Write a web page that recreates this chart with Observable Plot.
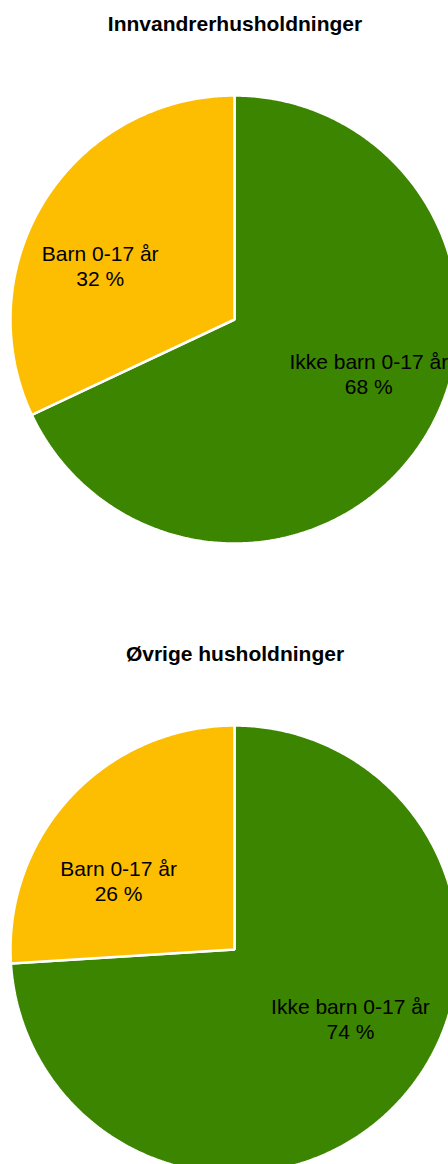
<!DOCTYPE html>
<html><head><meta charset="utf-8">
<script src="https://cdn.jsdelivr.net/npm/d3@7"></script>
<script src="https://cdn.jsdelivr.net/npm/@observablehq/plot@0.6"></script>
<style>
body{margin:0;background:#fff;font-family:"Liberation Sans",Arial,sans-serif;width:448px;overflow:hidden}
.block{height:630px;overflow:visible}
.title{font-weight:bold;font-size:21px;line-height:24px;padding-top:12px;text-align:center;width:470px;color:#000}
svg{overflow:visible;display:block}
</style></head>
<body><div id="root"></div>
<script>
const categories = ["Ikke barn 0-17 år", "Barn 0-17 år"];
const innvandrer = [68, 32];
const ovrige = [74, 26];
const titles = ["Innvandrerhusholdninger", "Øvrige husholdninger"];
const colors = ["#3b8500", "#fdbd00"];

function slicePoints(values){
  const arcs = d3.pie().sort(null).value(d=>d)(values);
  const pts=[];
  arcs.forEach((a,i)=>{
    const n = Math.max(2, Math.ceil((a.endAngle-a.startAngle)/(Math.PI/360)));
    pts.push({cat:categories[i], x:0, y:0});
    for(let k=0;k<=n;k++){
      const t=a.startAngle+(a.endAngle-a.startAngle)*k/n;
      pts.push({cat:categories[i], x:Math.sin(t), y:Math.cos(t)});
    }
  });
  return pts;
}
function labelPoints(values){
  const arcs = d3.pie().sort(null).value(d=>d)(values);
  return arcs.map((a,i)=>{
    const m=(a.startAngle+a.endAngle)/2;
    return {x:Math.sin(m)*0.71, y:Math.cos(m)*0.45, text:`${categories[i]}\n${values[i]} %`};
  });
}
const root=document.getElementById("root");
[innvandrer, ovrige].forEach((values,idx)=>{
  const block=document.createElement("div"); block.className="block";
  const t=document.createElement("div"); t.className="title"; t.textContent=titles[idx];
  block.appendChild(t);
  const cy=283, R=224, cx=234;
  const chart=Plot.plot({
    width:448, height:594, margin:0,
    style:{fontFamily:'"Liberation Sans",Arial,sans-serif', background:"transparent"},
    x:{domain:[-1,1], range:[cx-R, cx+R], axis:null},
    y:{domain:[-1,1], range:[cy+R, cy-R], axis:null},
    color:{domain:categories, range:colors},
    marks:[
      Plot.line(slicePoints(values), {x:"x", y:"y", z:"cat", fill:"cat", stroke:"white", strokeWidth:2.5, strokeLinejoin:"miter", curve:"linear-closed"}),
      Plot.text(labelPoints(values), {x:"x", y:"y", text:"text", fontSize:21, lineHeight:1.2, fill:"black"})
    ]
  });
  block.appendChild(chart);
  root.appendChild(block);
});
</script></body></html>
